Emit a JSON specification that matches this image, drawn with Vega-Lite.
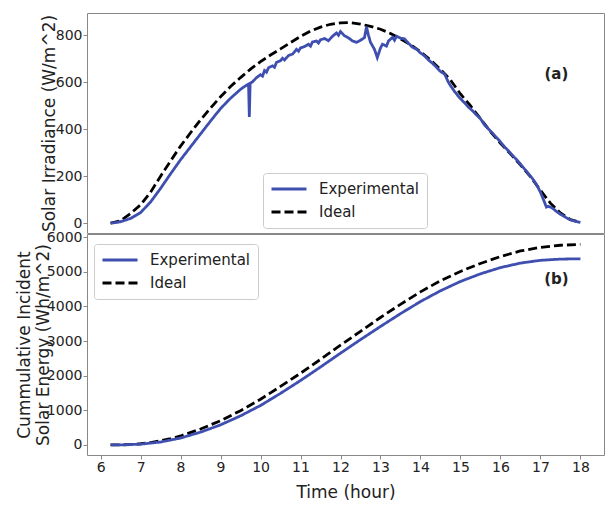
{
  "$schema": "https://vega.github.io/schema/vega-lite/v6.json",
  "padding": {"top": 12, "left": 14, "right": 2, "bottom": 2},
  "spacing": 1,
  "bounds": "flush",
  "config": {
    "font": "DejaVu Sans",
    "view": {"stroke": "#888888", "strokeWidth": 1},
    "axis": {"domain": false, "grid": false, "tickColor": "#888888", "tickSize": 4, "labelFontSize": 14, "titleFontSize": 17, "labelColor": "#222222", "titleColor": "#222222", "titleFontWeight": "normal", "labelPadding": 1},
    "legend": {"labelFontSize": 15, "labelColor": "#222222", "strokeColor": "#cccccc", "fillColor": "#ffffff", "padding": 7, "cornerRadius": 3, "symbolStrokeWidth": 2.8, "symbolSize": 1225, "clipHeight": 18, "rowPadding": 5, "labelOffset": 11}
  },
  "resolve": {"scale": {"color": "independent", "strokeDash": "independent"}, "legend": {"color": "independent", "strokeDash": "independent"}},
  "datasets": {
    "irr": [
      {"t": 6.25, "v": 0, "s": "Ideal"}, {"t": 6.5, "v": 10, "s": "Ideal"}, {"t": 6.75, "v": 41, "s": "Ideal"}, {"t": 7.0, "v": 78, "s": "Ideal"}, {"t": 7.25, "v": 132, "s": "Ideal"}, {"t": 7.5, "v": 200, "s": "Ideal"}, {"t": 7.75, "v": 265, "s": "Ideal"}, {"t": 8.0, "v": 328, "s": "Ideal"}, {"t": 8.25, "v": 385, "s": "Ideal"}, {"t": 8.5, "v": 440, "s": "Ideal"}, {"t": 8.75, "v": 490, "s": "Ideal"}, {"t": 9.0, "v": 538, "s": "Ideal"}, {"t": 9.25, "v": 582, "s": "Ideal"}, {"t": 9.5, "v": 620, "s": "Ideal"}, {"t": 9.75, "v": 656, "s": "Ideal"}, {"t": 10.0, "v": 688, "s": "Ideal"}, {"t": 10.25, "v": 716, "s": "Ideal"}, {"t": 10.5, "v": 742, "s": "Ideal"}, {"t": 10.75, "v": 769, "s": "Ideal"}, {"t": 11.0, "v": 795, "s": "Ideal"}, {"t": 11.25, "v": 818, "s": "Ideal"}, {"t": 11.5, "v": 835, "s": "Ideal"}, {"t": 11.75, "v": 847, "s": "Ideal"}, {"t": 12.0, "v": 853, "s": "Ideal"}, {"t": 12.25, "v": 854, "s": "Ideal"}, {"t": 12.5, "v": 848, "s": "Ideal"}, {"t": 12.75, "v": 838, "s": "Ideal"}, {"t": 13.0, "v": 826, "s": "Ideal"}, {"t": 13.25, "v": 808, "s": "Ideal"}, {"t": 13.5, "v": 785, "s": "Ideal"}, {"t": 13.75, "v": 760, "s": "Ideal"}, {"t": 14.0, "v": 730, "s": "Ideal"}, {"t": 14.25, "v": 695, "s": "Ideal"}, {"t": 14.5, "v": 655, "s": "Ideal"}, {"t": 14.75, "v": 610, "s": "Ideal"}, {"t": 15.0, "v": 550, "s": "Ideal"}, {"t": 15.25, "v": 500, "s": "Ideal"}, {"t": 15.5, "v": 445, "s": "Ideal"}, {"t": 15.75, "v": 390, "s": "Ideal"}, {"t": 16.0, "v": 340, "s": "Ideal"}, {"t": 16.25, "v": 295, "s": "Ideal"}, {"t": 16.5, "v": 248, "s": "Ideal"}, {"t": 16.75, "v": 198, "s": "Ideal"}, {"t": 17.0, "v": 140, "s": "Ideal"}, {"t": 17.25, "v": 85, "s": "Ideal"}, {"t": 17.5, "v": 43, "s": "Ideal"}, {"t": 17.75, "v": 15, "s": "Ideal"}, {"t": 18.0, "v": 3, "s": "Ideal"},
      {"t": 6.25, "v": 0, "s": "Experimental"}, {"t": 6.4, "v": 3, "s": "Experimental"}, {"t": 6.5, "v": 6, "s": "Experimental"}, {"t": 6.75, "v": 20, "s": "Experimental"}, {"t": 7.0, "v": 45, "s": "Experimental"}, {"t": 7.25, "v": 90, "s": "Experimental"}, {"t": 7.5, "v": 148, "s": "Experimental"}, {"t": 7.75, "v": 210, "s": "Experimental"}, {"t": 8.0, "v": 270, "s": "Experimental"}, {"t": 8.25, "v": 325, "s": "Experimental"}, {"t": 8.5, "v": 380, "s": "Experimental"}, {"t": 8.75, "v": 435, "s": "Experimental"}, {"t": 9.0, "v": 488, "s": "Experimental"}, {"t": 9.25, "v": 532, "s": "Experimental"}, {"t": 9.5, "v": 570, "s": "Experimental"}, {"t": 9.6, "v": 582, "s": "Experimental"}, {"t": 9.7, "v": 592, "s": "Experimental"}, {"t": 9.72, "v": 452, "s": "Experimental"}, {"t": 9.74, "v": 596, "s": "Experimental"}, {"t": 9.8, "v": 602, "s": "Experimental"}, {"t": 9.9, "v": 620, "s": "Experimental"}, {"t": 10.0, "v": 632, "s": "Experimental"}, {"t": 10.05, "v": 626, "s": "Experimental"}, {"t": 10.1, "v": 650, "s": "Experimental"}, {"t": 10.15, "v": 643, "s": "Experimental"}, {"t": 10.2, "v": 662, "s": "Experimental"}, {"t": 10.3, "v": 670, "s": "Experimental"}, {"t": 10.35, "v": 664, "s": "Experimental"}, {"t": 10.4, "v": 685, "s": "Experimental"}, {"t": 10.5, "v": 692, "s": "Experimental"}, {"t": 10.55, "v": 702, "s": "Experimental"}, {"t": 10.6, "v": 695, "s": "Experimental"}, {"t": 10.7, "v": 714, "s": "Experimental"}, {"t": 10.8, "v": 720, "s": "Experimental"}, {"t": 10.9, "v": 740, "s": "Experimental"}, {"t": 10.95, "v": 732, "s": "Experimental"}, {"t": 11.0, "v": 746, "s": "Experimental"}, {"t": 11.1, "v": 752, "s": "Experimental"}, {"t": 11.2, "v": 762, "s": "Experimental"}, {"t": 11.25, "v": 754, "s": "Experimental"}, {"t": 11.3, "v": 772, "s": "Experimental"}, {"t": 11.4, "v": 776, "s": "Experimental"}, {"t": 11.45, "v": 767, "s": "Experimental"}, {"t": 11.5, "v": 781, "s": "Experimental"}, {"t": 11.6, "v": 786, "s": "Experimental"}, {"t": 11.7, "v": 777, "s": "Experimental"}, {"t": 11.8, "v": 796, "s": "Experimental"}, {"t": 11.9, "v": 810, "s": "Experimental"}, {"t": 11.95, "v": 800, "s": "Experimental"}, {"t": 12.0, "v": 816, "s": "Experimental"}, {"t": 12.1, "v": 798, "s": "Experimental"}, {"t": 12.2, "v": 789, "s": "Experimental"}, {"t": 12.3, "v": 776, "s": "Experimental"}, {"t": 12.4, "v": 770, "s": "Experimental"}, {"t": 12.5, "v": 779, "s": "Experimental"}, {"t": 12.6, "v": 790, "s": "Experimental"}, {"t": 12.65, "v": 836, "s": "Experimental"}, {"t": 12.7, "v": 800, "s": "Experimental"}, {"t": 12.75, "v": 770, "s": "Experimental"}, {"t": 12.85, "v": 740, "s": "Experimental"}, {"t": 12.92, "v": 705, "s": "Experimental"}, {"t": 13.0, "v": 746, "s": "Experimental"}, {"t": 13.05, "v": 762, "s": "Experimental"}, {"t": 13.15, "v": 754, "s": "Experimental"}, {"t": 13.2, "v": 776, "s": "Experimental"}, {"t": 13.3, "v": 791, "s": "Experimental"}, {"t": 13.35, "v": 779, "s": "Experimental"}, {"t": 13.4, "v": 796, "s": "Experimental"}, {"t": 13.5, "v": 788, "s": "Experimental"}, {"t": 13.6, "v": 785, "s": "Experimental"}, {"t": 13.7, "v": 766, "s": "Experimental"}, {"t": 13.8, "v": 749, "s": "Experimental"}, {"t": 13.9, "v": 741, "s": "Experimental"}, {"t": 14.0, "v": 725, "s": "Experimental"}, {"t": 14.1, "v": 713, "s": "Experimental"}, {"t": 14.2, "v": 695, "s": "Experimental"}, {"t": 14.3, "v": 681, "s": "Experimental"}, {"t": 14.4, "v": 664, "s": "Experimental"}, {"t": 14.5, "v": 646, "s": "Experimental"}, {"t": 14.6, "v": 636, "s": "Experimental"}, {"t": 14.7, "v": 600, "s": "Experimental"}, {"t": 14.75, "v": 586, "s": "Experimental"}, {"t": 14.85, "v": 561, "s": "Experimental"}, {"t": 15.0, "v": 530, "s": "Experimental"}, {"t": 15.1, "v": 513, "s": "Experimental"}, {"t": 15.2, "v": 494, "s": "Experimental"}, {"t": 15.3, "v": 479, "s": "Experimental"}, {"t": 15.4, "v": 461, "s": "Experimental"}, {"t": 15.5, "v": 445, "s": "Experimental"}, {"t": 15.6, "v": 419, "s": "Experimental"}, {"t": 15.7, "v": 401, "s": "Experimental"}, {"t": 15.8, "v": 384, "s": "Experimental"}, {"t": 15.9, "v": 365, "s": "Experimental"}, {"t": 16.0, "v": 346, "s": "Experimental"}, {"t": 16.1, "v": 325, "s": "Experimental"}, {"t": 16.2, "v": 308, "s": "Experimental"}, {"t": 16.3, "v": 289, "s": "Experimental"}, {"t": 16.4, "v": 271, "s": "Experimental"}, {"t": 16.5, "v": 252, "s": "Experimental"}, {"t": 16.6, "v": 231, "s": "Experimental"}, {"t": 16.7, "v": 211, "s": "Experimental"}, {"t": 16.8, "v": 190, "s": "Experimental"}, {"t": 16.9, "v": 165, "s": "Experimental"}, {"t": 17.0, "v": 132, "s": "Experimental"}, {"t": 17.1, "v": 90, "s": "Experimental"}, {"t": 17.15, "v": 68, "s": "Experimental"}, {"t": 17.2, "v": 72, "s": "Experimental"}, {"t": 17.3, "v": 64, "s": "Experimental"}, {"t": 17.4, "v": 50, "s": "Experimental"}, {"t": 17.5, "v": 38, "s": "Experimental"}, {"t": 17.6, "v": 28, "s": "Experimental"}, {"t": 17.7, "v": 18, "s": "Experimental"}, {"t": 17.8, "v": 12, "s": "Experimental"}, {"t": 17.9, "v": 7, "s": "Experimental"}, {"t": 18.0, "v": 3, "s": "Experimental"}
    ],
    "cum": [
      {"t": 6.25, "v": 0, "s": "Ideal"}, {"t": 6.5, "v": 3, "s": "Ideal"}, {"t": 6.75, "v": 12, "s": "Ideal"}, {"t": 7.0, "v": 35, "s": "Ideal"}, {"t": 7.25, "v": 70, "s": "Ideal"}, {"t": 7.5, "v": 120, "s": "Ideal"}, {"t": 7.75, "v": 180, "s": "Ideal"}, {"t": 8.0, "v": 260, "s": "Ideal"}, {"t": 8.5, "v": 460, "s": "Ideal"}, {"t": 9.0, "v": 700, "s": "Ideal"}, {"t": 9.5, "v": 990, "s": "Ideal"}, {"t": 10.0, "v": 1320, "s": "Ideal"}, {"t": 10.5, "v": 1690, "s": "Ideal"}, {"t": 11.0, "v": 2070, "s": "Ideal"}, {"t": 11.5, "v": 2470, "s": "Ideal"}, {"t": 12.0, "v": 2880, "s": "Ideal"}, {"t": 12.5, "v": 3280, "s": "Ideal"}, {"t": 13.0, "v": 3680, "s": "Ideal"}, {"t": 13.5, "v": 4060, "s": "Ideal"}, {"t": 14.0, "v": 4420, "s": "Ideal"}, {"t": 14.5, "v": 4740, "s": "Ideal"}, {"t": 15.0, "v": 5010, "s": "Ideal"}, {"t": 15.5, "v": 5240, "s": "Ideal"}, {"t": 16.0, "v": 5440, "s": "Ideal"}, {"t": 16.5, "v": 5600, "s": "Ideal"}, {"t": 17.0, "v": 5705, "s": "Ideal"}, {"t": 17.5, "v": 5765, "s": "Ideal"}, {"t": 18.0, "v": 5790, "s": "Ideal"},
      {"t": 6.25, "v": 0, "s": "Experimental"}, {"t": 6.5, "v": 2, "s": "Experimental"}, {"t": 7.0, "v": 22, "s": "Experimental"}, {"t": 7.5, "v": 85, "s": "Experimental"}, {"t": 8.0, "v": 200, "s": "Experimental"}, {"t": 8.5, "v": 370, "s": "Experimental"}, {"t": 9.0, "v": 580, "s": "Experimental"}, {"t": 9.5, "v": 840, "s": "Experimental"}, {"t": 10.0, "v": 1140, "s": "Experimental"}, {"t": 10.5, "v": 1490, "s": "Experimental"}, {"t": 11.0, "v": 1860, "s": "Experimental"}, {"t": 11.5, "v": 2250, "s": "Experimental"}, {"t": 12.0, "v": 2650, "s": "Experimental"}, {"t": 12.5, "v": 3040, "s": "Experimental"}, {"t": 13.0, "v": 3420, "s": "Experimental"}, {"t": 13.5, "v": 3790, "s": "Experimental"}, {"t": 14.0, "v": 4140, "s": "Experimental"}, {"t": 14.5, "v": 4450, "s": "Experimental"}, {"t": 15.0, "v": 4720, "s": "Experimental"}, {"t": 15.5, "v": 4940, "s": "Experimental"}, {"t": 16.0, "v": 5120, "s": "Experimental"}, {"t": 16.5, "v": 5250, "s": "Experimental"}, {"t": 17.0, "v": 5330, "s": "Experimental"}, {"t": 17.5, "v": 5365, "s": "Experimental"}, {"t": 18.0, "v": 5375, "s": "Experimental"}
    ],
    "labA": [{"t": 17.4, "v": 637, "label": "(a)"}],
    "labB": [{"t": 17.4, "v": 4783, "label": "(b)"}]
  },
  "vconcat": [
    {
      "width": 517,
      "height": 220,
      "layer": [
        {
          "data": {"name": "irr"},
          "mark": {"type": "line", "strokeWidth": 2.8},
          "encoding": {
            "x": {"field": "t", "type": "quantitative", "scale": {"domain": [5.66, 18.59], "nice": false, "zero": false}, "axis": null},
            "y": {"field": "v", "type": "quantitative", "scale": {"domain": [-42, 895], "nice": false, "zero": false}, "axis": {"values": [0, 200, 400, 600, 800], "tickCount": 10, "format": "d", "labelOverlap": false, "title": "Solar Irradiance (W/m^2)", "titleX": -29}},
            "color": {"field": "s", "type": "nominal", "scale": {"domain": ["Experimental", "Ideal"], "range": ["#3f4fb0", "#000000"]}, "legend": {"title": null, "orient": "none", "legendX": 176, "legendY": 160}},
            "strokeDash": {"field": "s", "type": "nominal", "scale": {"domain": ["Experimental", "Ideal"], "range": [[1, 0], [9, 4]]}, "legend": {"title": null, "orient": "none", "legendX": 176, "legendY": 160}}
          }
        },
        {
          "data": {"name": "labA"},
          "mark": {"type": "text", "fontSize": 15, "fontWeight": "bold", "color": "#222222"},
          "encoding": {
            "x": {"field": "t", "type": "quantitative"},
            "y": {"field": "v", "type": "quantitative"},
            "text": {"field": "label"}
          }
        }
      ]
    },
    {
      "width": 517,
      "height": 221,
      "layer": [
        {
          "data": {"name": "cum"},
          "mark": {"type": "line", "strokeWidth": 2.8},
          "encoding": {
            "x": {"field": "t", "type": "quantitative", "scale": {"domain": [5.66, 18.59], "nice": false, "zero": false}, "axis": {"values": [6, 7, 8, 9, 10, 11, 12, 13, 14, 15, 16, 17, 18], "tickCount": 20, "format": "d", "labelOverlap": false, "title": "Time (hour)", "titlePadding": 10}},
            "y": {"field": "v", "type": "quantitative", "scale": {"domain": [-290, 6090], "nice": false, "zero": false}, "axis": {"values": [0, 1000, 2000, 3000, 4000, 5000, 6000], "tickCount": 10, "format": "d", "labelOverlap": false, "title": ["Cummulative Incident", "Solar Energy (Wh/m^2)"], "titleX": -54, "titleLineHeight": 19}},
            "color": {"field": "s", "type": "nominal", "scale": {"domain": ["Experimental", "Ideal"], "range": ["#3f4fb0", "#000000"]}, "legend": {"title": null, "orient": "none", "legendX": 7, "legendY": 10}},
            "strokeDash": {"field": "s", "type": "nominal", "scale": {"domain": ["Experimental", "Ideal"], "range": [[1, 0], [9, 4]]}, "legend": {"title": null, "orient": "none", "legendX": 7, "legendY": 10}}
          }
        },
        {
          "data": {"name": "labB"},
          "mark": {"type": "text", "fontSize": 15, "fontWeight": "bold", "color": "#222222"},
          "encoding": {
            "x": {"field": "t", "type": "quantitative"},
            "y": {"field": "v", "type": "quantitative"},
            "text": {"field": "label"}
          }
        }
      ]
    }
  ]
}
